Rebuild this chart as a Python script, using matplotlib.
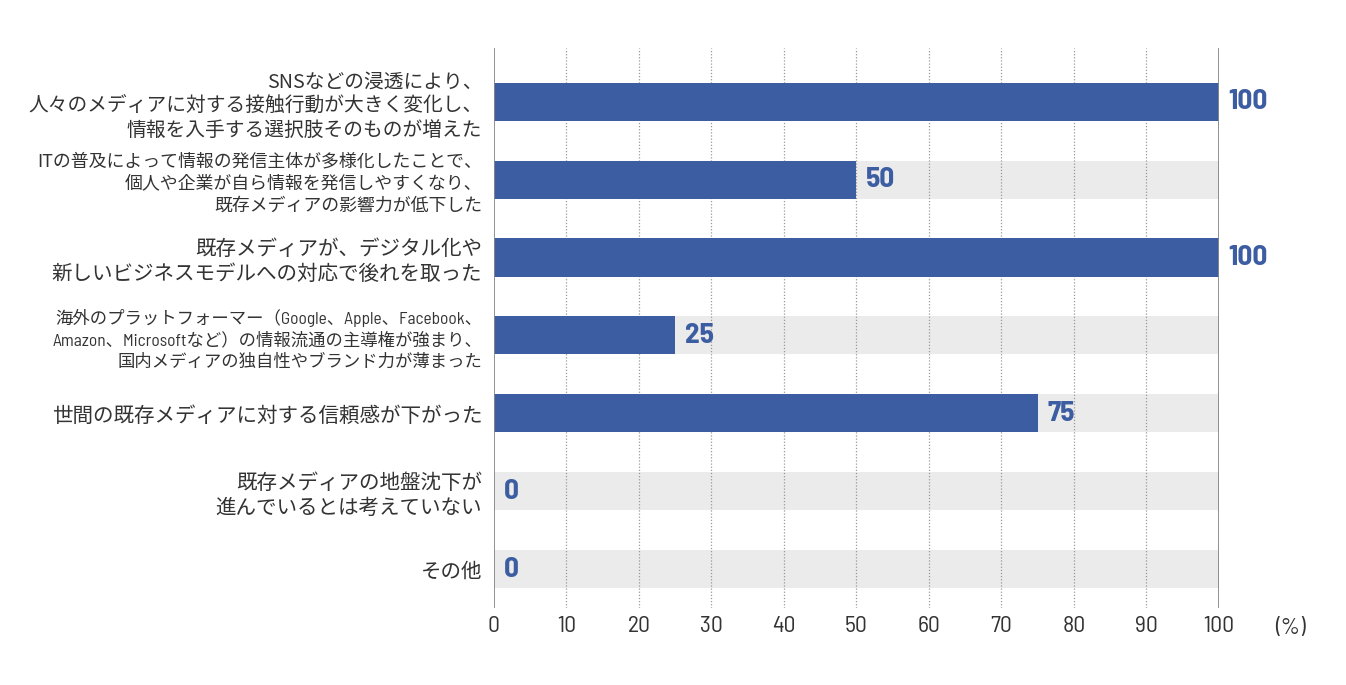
import matplotlib
matplotlib.use("Agg")
import matplotlib.pyplot as plt

plt.rcParams['font.family'] = ['Barlow Semi Condensed', 'Noto Sans CJK JP', 'DejaVu Sans']

categories = [
    "SNSなどの浸透により、\n人々のメディアに対する接触行動が大きく変化し、\n情報を入手する選択肢そのものが増えた",
    "ITの普及によって情報の発信主体が多様化したことで、\n個人や企業が自ら情報を発信しやすくなり、\n既存メディアの影響力が低下した",
    "既存メディアが、デジタル化や\n新しいビジネスモデルへの対応で後れを取った",
    "海外のプラットフォーマー（Google、Apple、Facebook、\nAmazon、Microsoftなど）の情報流通の主導権が強まり、\n国内メディアの独自性やブランド力が薄まった",
    "世間の既存メディアに対する信頼感が下がった",
    "既存メディアの地盤沈下が\n進んでいるとは考えていない",
    "その他",
]
values = [100, 50, 100, 25, 75, 0, 0]
xticks = [0, 10, 20, 30, 40, 50, 60, 70, 80, 90, 100]
xmax = 100

W, H = 1346, 685
fig = plt.figure(figsize=(W / 100, H / 100), dpi=100)
left, right, top, bottom = 494, 1219, 48, 608
ax = fig.add_axes([left / W, 1 - bottom / H, (right - left) / W, (bottom - top) / H])

bar_color = "#3D5DA2"
bg_color = "#EBEBEB"
text_color = "#333333"
num_family = ["Barlow Semi Condensed", "DejaVu Sans"]
pos = list(range(len(categories)))
bh = 0.49

ax.barh(pos, [xmax] * len(pos), height=bh, color=bg_color, zorder=1)
ax.barh(pos, values, height=bh, color=bar_color, zorder=3)

for p, v in zip(pos, values):
    ax.annotate(str(v), xy=(v, p), xytext=(7, 0), textcoords="offset points",
                ha="left", va="center", fontsize=21, fontweight="bold",
                color=bar_color, family=num_family)

ax.set_xlim(0, xmax)
ax.set_ylim(6.5, -0.69)
for s in ["top", "bottom", "left", "right"]:
    ax.spines[s].set_visible(False)
ax.axvline(0, color="#888888", lw=1.3, zorder=4)
ax.axvline(100, color="#888888", lw=1.3, zorder=4)
for t in xticks[1:-1]:
    ax.axvline(t, color="#999999", lw=0.9, ls=(0, (1, 1.5)), zorder=2)

ax.set_xticks(xticks)
ax.set_xticklabels([str(t) for t in xticks], fontsize=17, color=text_color,
                   family=num_family)
ax.tick_params(axis="x", length=0, pad=6)
ax.set_yticks(pos)
ax.set_yticklabels(categories, color=text_color)
label_sizes = [14.2, 12.9, 14.8, 12.5, 14.8, 14.8, 14.8]
label_spacing = [1.2, 1.3, 1.2, 1.35, 1.2, 1.2, 1.2]
for i, (lab, fs, ls) in enumerate(zip(ax.get_yticklabels(), label_sizes, label_spacing)):
    lab.set_fontsize(fs)
    lab.set_linespacing(ls)
    if i != 3:
        lab.set_family(['Noto Sans CJK JP', 'DejaVu Sans'])
ax.tick_params(axis="y", length=0, pad=8.5)

ax.text(1.098, -0.018, "(%)", transform=ax.transAxes, ha="center", va="top",
        fontsize=17, color=text_color, family=num_family)

fig.savefig("out.png", dpi=100)
